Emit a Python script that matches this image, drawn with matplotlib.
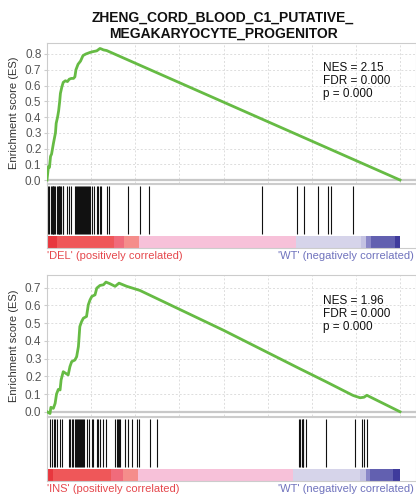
import matplotlib
matplotlib.use("Agg")
import matplotlib.pyplot as plt

plt.rcParams['font.family'] = ['Liberation Sans', 'DejaVu Sans']

title = "ZHENG_CORD_BLOOD_C1_PUTATIVE_\nMEGAKARYOCYTE_PROGENITOR"

# ---- panel 1 (DEL vs WT) ----
es1_x = [0.0, 0.004, 0.007, 0.010, 0.013, 0.018, 0.024, 0.026, 0.030, 0.033, 0.036,
         0.038, 0.042, 0.046, 0.052, 0.058, 0.063, 0.069, 0.075, 0.079, 0.082, 0.088,
         0.095, 0.102, 0.110, 0.122, 0.130, 0.141, 0.150, 0.154, 0.160, 0.169, 0.176, 1.0]
es1_y = [0.0, 0.085, 0.080, 0.150, 0.165, 0.230, 0.300, 0.360, 0.400, 0.440, 0.500,
         0.550, 0.590, 0.620, 0.630, 0.625, 0.640, 0.645, 0.645, 0.655, 0.700, 0.735,
         0.755, 0.790, 0.800, 0.810, 0.815, 0.820, 0.835, 0.832, 0.826, 0.822, 0.815, 0.0]
hits1 = [0.001, 0.004, 0.007, 0.010, 0.013, 0.016, 0.018, 0.021, 0.024, 0.027, 0.030,
         0.033, 0.035, 0.038, 0.041, 0.044, 0.046, 0.058, 0.063, 0.069,
         0.079, 0.082, 0.085, 0.088, 0.091, 0.093, 0.096, 0.099, 0.102, 0.105, 0.108,
         0.110, 0.113, 0.116, 0.119, 0.122, 0.128, 0.134, 0.141, 0.145, 0.150, 0.154,
         0.169, 0.176, 0.230, 0.264, 0.289, 0.608, 0.709, 0.728, 0.769, 0.796, 0.805, 0.866]
stats1 = "NES = 2.15\nFDR = 0.000\np = 0.000"
pos_label1 = "'DEL' (positively correlated)"

# ---- panel 2 (INS vs WT) ----
es2_x = [0.0, 0.0085, 0.011, 0.018, 0.023, 0.027, 0.032, 0.037, 0.040, 0.046, 0.060,
         0.065, 0.070, 0.079, 0.084, 0.089, 0.093, 0.098, 0.103, 0.112, 0.117, 0.122,
         0.127, 0.136, 0.141, 0.150, 0.160, 0.167, 0.178, 0.193, 0.204, 0.226, 0.263,
         0.500, 0.714, 0.790, 0.866, 0.873, 0.887, 0.898, 0.906, 1.0]
es2_y = [0.0, -0.010, 0.025, 0.019, 0.047, 0.100, 0.126, 0.123, 0.180, 0.226, 0.208,
         0.255, 0.283, 0.292, 0.311, 0.368, 0.481, 0.509, 0.528, 0.538, 0.604, 0.632,
         0.651, 0.660, 0.698, 0.713, 0.717, 0.732, 0.723, 0.708, 0.726, 0.708, 0.685,
         0.460, 0.245, 0.170, 0.093, 0.088, 0.079, 0.082, 0.093, 0.0]
hits2 = [0.008, 0.013, 0.020, 0.023, 0.027, 0.037, 0.042, 0.062, 0.065, 0.070, 0.075,
         0.079, 0.082, 0.085, 0.088, 0.091, 0.093, 0.096, 0.099, 0.102, 0.105, 0.112,
         0.120, 0.127, 0.131, 0.141, 0.145, 0.150, 0.159, 0.166, 0.193, 0.197, 0.201,
         0.204, 0.207, 0.221, 0.230, 0.240, 0.254, 0.261, 0.293, 0.311,
         0.715, 0.718, 0.721, 0.724, 0.726, 0.734, 0.790, 0.873, 0.891, 0.898, 0.906]
stats2 = "NES = 1.96\nFDR = 0.000\np = 0.000"
pos_label2 = "'INS' (positively correlated)"
neg_label = "'WT' (negatively correlated)"

# ranked-list colour bar segments
seg_colors = ["#e8373e", "#ef5759", "#f06b7b", "#f58d8b", "#f7c1d9",
              "#d6d4ea", "#c4c2e2", "#8a87c8", "#6260b0", "#3f3b9c"]
seg1_edges = [0.0, 0.027, 0.191, 0.218, 0.262, 0.705, 0.890, 0.904, 0.918, 0.986, 1.0]
seg2_edges = [0.0, 0.018, 0.181, 0.216, 0.257, 0.698, 0.887, 0.904, 0.915, 0.981, 1.0]

yticks1 = [0.0, 0.1, 0.2, 0.3, 0.4, 0.5, 0.6, 0.7, 0.8]
yticks2 = [0.0, 0.1, 0.2, 0.3, 0.4, 0.5, 0.6, 0.7]
xgrid = [0.125, 0.25, 0.375, 0.5, 0.625, 0.75, 0.875, 1.0]

W, H = 416, 499
fig = plt.figure(figsize=(W / 100, H / 100), dpi=100)


def rect(x0, y0, x1, y1):
    return [x0 / W, 1 - y1 / H, (x1 - x0) / W, (y1 - y0) / H]


XMAX = 369 / 353
GREEN = "#66bb44"
SPINE = "#cccccc"


def panel(top, es_x, es_y, hits, edges, stats, yticks, ylim, pos_label):
    es_h = ylim[2]
    ax = fig.add_axes(rect(47, top, 416, top + es_h))
    ax.set_xlim(0, XMAX)
    ax.set_ylim(ylim[0], ylim[1])
    for x in xgrid:
        ax.axvline(x, color="#dddddd", lw=0.7, ls=(0, (2, 2)), zorder=0)
    for y in yticks[1:]:
        ax.axhline(y, color="#dddddd", lw=0.7, ls=(0, (2, 2)), zorder=0)
    ax.axhline(0, color="#c8c8c8", lw=1.6, zorder=1)
    ax.plot(es_x, es_y, color=GREEN, lw=2.0, zorder=3, solid_joinstyle="round")
    ax.set_xticks([])
    ax.set_yticks(yticks)
    ax.set_yticklabels([f"{v:.1f}" for v in yticks], fontsize=8.5, color="#555555")
    ax.tick_params(axis="y", length=2, color=SPINE, pad=2)
    for s in ax.spines.values():
        s.set_color(SPINE)
        s.set_linewidth(0.8)
    ax.set_ylabel("Enrichment score (ES)", fontsize=8, color="#333333", labelpad=4)
    ax.text(0.748, 0.86, stats, transform=ax.transAxes, fontsize=8.5, va="top",
            ha="left", linespacing=1.12, color="#111111")

    hb = top + es_h
    axh = fig.add_axes(rect(47, hb + 1, 416, hb + 53))
    axh.set_xlim(0, XMAX)
    axh.set_ylim(0, 1)
    axh.vlines(hits, 0.03, 0.97, color="#111111", lw=0.8)
    axh.set_xticks([])
    axh.set_yticks([])
    for s in axh.spines.values():
        s.set_color(SPINE)
        s.set_linewidth(0.8)
    axh.spines["bottom"].set_visible(False)

    axc = fig.add_axes(rect(47, hb + 53, 416, hb + 65))
    axc.set_xlim(0, XMAX)
    axc.set_ylim(0, 1)
    lefts = edges[:-1]
    widths = [b - a for a, b in zip(edges[:-1], edges[1:])]
    axc.barh([0.5] * len(lefts), widths, left=lefts, height=1.0, color=seg_colors,
             edgecolor="none")
    axc.set_xticks([])
    axc.set_yticks([])
    for s in axc.spines.values():
        s.set_color(SPINE)
        s.set_linewidth(0.8)
    axc.spines["top"].set_visible(False)

    ly = 1 - (hb + 73) / H
    fig.text(47 / W, ly, pos_label, fontsize=8, color="#e5484d", ha="left", va="center")
    fig.text(414 / W, ly, neg_label, fontsize=8, color="#6f72bd", ha="right", va="center")


fig.text(223 / W, 1 - 25.5 / H, title, fontsize=10, fontweight="bold", ha="center",
         va="center", linespacing=1.2, color="#111111")

panel(42.5, es1_x, es1_y, hits1, seg1_edges, stats1, yticks1, (-0.019, 0.873, 140.5), pos_label1)
panel(275, es2_x, es2_y, hits2, seg2_edges, stats2, yticks2, (-0.024, 0.772, 141), pos_label2)

fig.savefig("out.png", dpi=100)
